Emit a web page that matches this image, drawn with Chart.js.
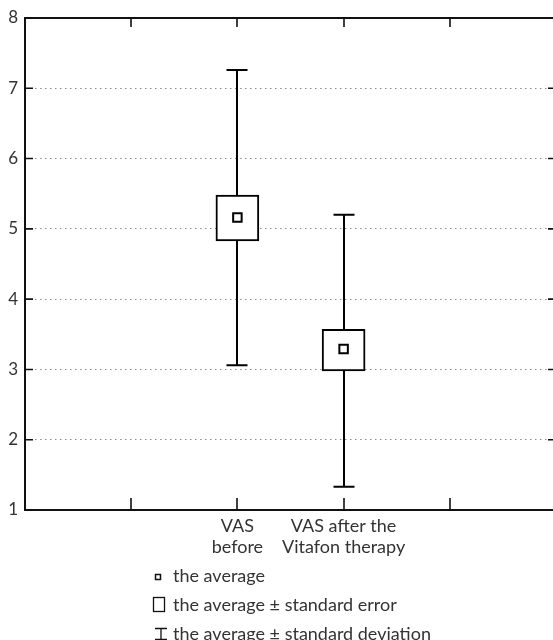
<!DOCTYPE html>
<html lang="en">
<head>
  <meta charset="UTF-8" />
  <title>VAS before and after Vitafon therapy</title>
  <script src="https://cdn.jsdelivr.net/npm/chart.js"></script>
  <style>
    body {
      margin: 0;
      background: #fff;
      overflow: hidden;
      font-family: "Lato", sans-serif;
      color: #333;
    }
    .wrap {
      position: absolute;
      left: 0;
      top: 0;
      width: 564px;
      height: 600px;
    }
    .icons {
      position: absolute;
      left: 140px;
      top: 560px;
      width: 40px;
      height: 80px;
    }
    .row {
      position: absolute;
      left: 173px;
      height: 29px;
      line-height: 29px;
      font-size: 18px;
      white-space: nowrap;
    }
  </style>
</head>
<body>
  <div class="wrap">
    <canvas id="vasChart" width="564" height="600"></canvas>
  </div>

  <!-- legend -->
  <svg class="icons" viewBox="0 0 40 80">
    <rect x="15.5" y="14.5" width="5" height="5" fill="#fff" stroke="#111" stroke-width="1.5"/>
    <rect x="13.5" y="37.5" width="11" height="14" fill="#fff" stroke="#111" stroke-width="1.3"/>
    <path d="M15 68.5 H27 M21 68.5 V79.5 M15 79.5 H27" fill="none" stroke="#111" stroke-width="1.3"/>
  </svg>
  <div class="row" style="top:561px">the average</div>
  <div class="row" style="top:590px">the average ± standard error</div>
  <div class="row" style="top:619px">the average ± standard deviation</div>

  <script>
    // x positions 0..5, groups sit on positions 2 and 3
    const tickLabels = ['', '', ['VAS', 'before'], ['VAS after the', 'Vitafon therapy'], '', ''];
    const groupIndex = [2, 3];

    const means = [5.16, 3.29];
    const seLow = [4.83, 2.98];
    const seHigh = [5.48, 3.57];
    const sdLow = [3.06, 1.33];
    const sdHigh = [7.26, 5.20];

    const yMin = 1, yMax = 8;

    const boxData = tickLabels.map(() => null);
    const meanData = tickLabels.map(() => null);
    groupIndex.forEach((idx, i) => {
      boxData[idx] = [seLow[i], seHigh[i]];
      meanData[idx] = means[i];
    });

    // whiskers (mean ± SD) drawn under the SE boxes
    const whiskers = {
      id: 'whiskers',
      beforeDatasetsDraw(chart) {
        const { ctx, scales: { x, y } } = chart;
        ctx.save();
        ctx.strokeStyle = '#000';
        ctx.lineWidth = 2;
        groupIndex.forEach((idx, i) => {
          const px = Math.round(x.getPixelForValue(idx));
          const top = y.getPixelForValue(sdHigh[i]);
          const bot = y.getPixelForValue(sdLow[i]);
          ctx.beginPath();
          ctx.moveTo(px, top);
          ctx.lineTo(px, bot);
          ctx.moveTo(px - 10.5, top);
          ctx.lineTo(px + 10.5, top);
          ctx.moveTo(px - 10.5, bot);
          ctx.lineTo(px + 10.5, bot);
          ctx.stroke();
        });
        ctx.restore();
      }
    };

    // frame and inward tick marks
    const frame = {
      id: 'frame',
      afterDraw(chart) {
        const { ctx, chartArea: a, scales: { x, y } } = chart;
        ctx.save();
        ctx.strokeStyle = '#111';
        ctx.lineWidth = 2;
        ctx.strokeRect(a.left, a.top, a.right - a.left, a.bottom - a.top);
        ctx.lineWidth = 1.6;
        ctx.beginPath();
        for (let v = yMin + 1; v < yMax; v++) {
          const py = y.getPixelForValue(v);
          ctx.moveTo(a.left, py); ctx.lineTo(a.left + 8, py);
          ctx.moveTo(a.right - 8, py); ctx.lineTo(a.right, py);
        }
        for (let i = 1; i < tickLabels.length - 1; i++) {
          const px = Math.round(x.getPixelForValue(i));
          ctx.moveTo(px, a.top); ctx.lineTo(px, a.top + 9);
          ctx.moveTo(px, a.bottom - 12); ctx.lineTo(px, a.bottom);
        }
        ctx.stroke();
        ctx.restore();
      }
    };

    Chart.defaults.font.family = 'Lato, sans-serif';
    Chart.defaults.color = '#333';

    new Chart(document.getElementById('vasChart'), {
      type: 'bar',
      data: {
        labels: tickLabels,
        datasets: [
          {
            label: 'the average ± standard error',
            data: boxData,
            backgroundColor: '#fff',
            borderColor: '#000',
            borderWidth: 2,
            borderSkipped: false,
            barThickness: 43,
            order: 2
          },
          {
            type: 'line',
            label: 'the average',
            data: meanData,
            showLine: false,
            pointStyle: 'rect',
            pointRadius: 6,
            pointBorderWidth: 2,
            pointBackgroundColor: '#fff',
            pointBorderColor: '#000',
            order: 1
          }
        ]
      },
      options: {
        responsive: false,
        animation: false,
        layout: { padding: { top: 18, right: 5, left: 0, bottom: 0 } },
        plugins: {
          legend: { display: false },
          tooltip: { enabled: false }
        },
        scales: {
          x: {
            offset: false,
            grid: { display: false, drawTicks: false },
            border: { display: false },
            ticks: {
              autoSkip: false,
              maxRotation: 0,
              padding: 6,
              font: { size: 18, lineHeight: '21px' }
            },
            afterFit(scale) { scale.height = 90; }
          },
          y: {
            min: yMin,
            max: yMax,
            grid: {
              drawTicks: false,
              color: ctx => (ctx.tick.value === yMin || ctx.tick.value === yMax) ? 'rgba(0,0,0,0)' : '#8a8a8a',
              lineWidth: 1
            },
            border: { display: false, dash: [1.5, 3.5] },
            ticks: {
              stepSize: 1,
              padding: 7,
              font: { size: 17 }
            },
            afterFit(scale) { scale.width = 25; }
          }
        }
      },
      plugins: [whiskers, frame]
    });
  </script>
</body>
</html>
